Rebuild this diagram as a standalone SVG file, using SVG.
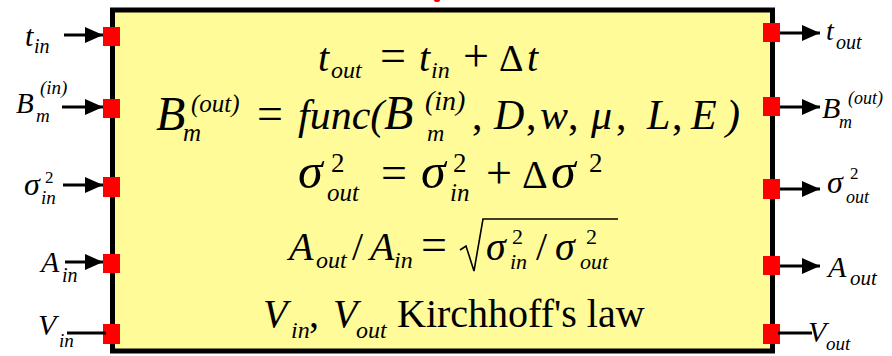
<svg xmlns="http://www.w3.org/2000/svg" width="892" height="356" viewBox="0 0 892 356">
<style>
text{font-family:"Liberation Serif","Times New Roman",serif;fill:#000}
.i{font-style:italic}
.u{font-style:normal}
.port{fill:#FF0000}
.wire{stroke:#000;stroke-width:3;fill:none}
</style>
<defs>
<marker id="ah" markerUnits="userSpaceOnUse" markerWidth="18" markerHeight="16" refX="18" refY="8" orient="auto">
<path d="M0,0 L18,8 L0,16 Z" fill="#000"/>
</marker>
</defs>
<rect x="0" y="0" width="892" height="356" fill="#FFFFFF"/>
<ellipse cx="437" cy="0" rx="3" ry="2" fill="#FF0000"/>

<g id="block">
<rect x="112.5" y="10" width="660" height="341" fill="#FFFB99" stroke="#000" stroke-width="5"/>
<text class="i" x="318" y="71" font-size="40">t</text>
<text class="i" x="331" y="78" font-size="24">out</text>
<text class="u" x="380" y="71" font-size="46">=</text>
<text class="i" x="419" y="71" font-size="40">t</text>
<text class="i" x="431" y="78" font-size="24">in</text>
<text class="u" x="463" y="71" font-size="46">+</text>
<text class="u" x="499" y="71" font-size="38">Δ</text>
<text class="i" x="527" y="71" font-size="40">t</text>

<text class="i" x="156" y="130" font-size="48">B</text>
<text class="i" x="191" y="112" font-size="25">(out)</text>
<text class="i" x="183" y="141" font-size="25">m</text>
<text class="u" x="257" y="129" font-size="46">=</text>
<text class="i" x="298" y="129" font-size="42">func(</text>
<text class="i" x="384" y="129" font-size="48">B</text>
<text class="i" x="425" y="110" font-size="28">(in)</text>
<text class="i" x="427" y="141" font-size="24">m</text>
<text class="u" x="472" y="129" font-size="42">,</text>
<text class="i" x="494" y="129" font-size="42">D</text>
<text class="u" x="526" y="129" font-size="42">,</text>
<text class="i" x="540" y="129" font-size="42">w</text>
<text class="u" x="568" y="129" font-size="42">,</text>
<text class="i" x="591" y="129" font-size="42">μ</text>
<text class="u" x="616" y="129" font-size="42">,</text>
<text class="i" x="647" y="129" font-size="42">L</text>
<text class="u" x="672" y="129" font-size="42">,</text>
<text class="i" x="691" y="129" font-size="42">E</text>
<text class="i" x="726" y="129" font-size="42">)</text>

<text class="i" x="298" y="188" font-size="50">σ</text>
<text class="u" x="331" y="172" font-size="27">2</text>
<text class="i" x="327" y="201" font-size="25">out</text>
<text class="u" x="381" y="188" font-size="46">=</text>
<text class="i" x="421" y="188" font-size="50">σ</text>
<text class="u" x="453" y="172" font-size="27">2</text>
<text class="i" x="450" y="201" font-size="25">in</text>
<text class="u" x="486" y="188" font-size="46">+</text>
<text class="u" x="522" y="188" font-size="40">Δ</text>
<text class="i" x="551" y="188" font-size="50">σ</text>
<text class="u" x="589" y="172" font-size="27">2</text>

<text class="i" x="289" y="260" font-size="40">A</text>
<text class="i" x="316" y="268" font-size="24">out</text>
<text class="u" x="352" y="260" font-size="40">/</text>
<text class="i" x="370" y="260" font-size="40">A</text>
<text class="i" x="394" y="268" font-size="24">in</text>
<text class="u" x="421" y="260" font-size="46">=</text>
<path d="M460,250 L466,246 L474,271 L483,219 L618,219" fill="none" stroke="#000" stroke-width="1.6"/>
<text class="i" x="486" y="260" font-size="40">σ</text>
<text class="u" x="512" y="244" font-size="22">2</text>
<text class="i" x="510" y="269" font-size="22">in</text>
<text class="u" x="536" y="260" font-size="40">/</text>
<text class="i" x="555" y="260" font-size="40">σ</text>
<text class="u" x="586" y="244" font-size="22">2</text>
<text class="i" x="580" y="269" font-size="22">out</text>

<text class="i" x="263" y="327" font-size="40">V</text>
<text class="i" x="291" y="338" font-size="24">in</text>
<text class="u" x="309" y="327" font-size="40">,</text>
<text class="i" x="333" y="327" font-size="40">V</text>
<text class="i" x="356" y="338" font-size="24">out</text>
<text class="u" x="397" y="327" font-size="40">Kirchhoff's law</text>
</g>

<g id="port-t-in">
<rect class="port" x="103" y="27" width="17" height="19"/>
<text class="i" x="25" y="46" font-size="30">t</text>
<text class="i" x="34" y="53" font-size="20">in</text>
</g>
<g id="port-b-in">
<rect class="port" x="103" y="99" width="17" height="19"/>
<text class="i" x="16" y="113" font-size="29">B</text>
<text class="i" x="40" y="94" font-size="19">(in)</text>
<text class="i" x="36" y="122" font-size="19">m</text>
</g>
<g id="port-sigma-in">
<rect class="port" x="103" y="177" width="17" height="20"/>
<text class="i" x="24" y="195" font-size="32">σ</text>
<text class="u" x="45" y="183" font-size="17">2</text>
<text class="i" x="41" y="204" font-size="19">in</text>
</g>
<g id="port-a-in">
<rect class="port" x="103" y="254" width="17" height="19"/>
<text class="i" x="41" y="272" font-size="30">A</text>
<text class="i" x="62" y="282" font-size="20">in</text>
</g>
<g id="port-v-in">
<rect class="port" x="103" y="324" width="17" height="20"/>
<text class="i" x="38" y="335" font-size="30">V</text>
<text class="i" x="59" y="347" font-size="19">in</text>
</g>

<g id="port-t-out">
<rect class="port" x="763" y="23" width="17" height="19"/>
<text class="i" x="826" y="40" font-size="28">t</text>
<text class="i" x="836" y="49" font-size="20">out</text>
</g>
<g id="port-b-out">
<rect class="port" x="763" y="97" width="17" height="19"/>
<text class="i" x="822" y="118" font-size="30">B</text>
<text class="i" x="848" y="104" font-size="18">(out)</text>
<text class="i" x="839" y="128" font-size="18">m</text>
</g>
<g id="port-sigma-out">
<rect class="port" x="763" y="179" width="17" height="20"/>
<text class="i" x="827" y="193" font-size="32">σ</text>
<text class="u" x="850" y="179" font-size="17">2</text>
<text class="i" x="846" y="203" font-size="18">out</text>
</g>
<g id="port-a-out">
<rect class="port" x="763" y="256" width="17" height="19"/>
<text class="i" x="828" y="277" font-size="30">A</text>
<text class="i" x="850" y="285" font-size="21">out</text>
</g>
<g id="port-v-out">
<rect class="port" x="763" y="324" width="17" height="20"/>
<text class="i" x="808" y="342" font-size="30">V</text>
<text class="i" x="826" y="350" font-size="19">out</text>
</g>

<g id="connectors">
<line class="wire" x1="64" y1="35" x2="103" y2="35" marker-end="url(#ah)"/>
<line class="wire" x1="62" y1="107" x2="103" y2="107" marker-end="url(#ah)"/>
<line class="wire" x1="63" y1="185" x2="103" y2="185" marker-end="url(#ah)"/>
<line class="wire" x1="65" y1="262" x2="103" y2="262" marker-end="url(#ah)"/>
<line class="wire" x1="67" y1="333" x2="106" y2="333"/>
<line class="wire" x1="780" y1="33" x2="820" y2="33" marker-end="url(#ah)"/>
<line class="wire" x1="780" y1="107" x2="820" y2="107" marker-end="url(#ah)"/>
<line class="wire" x1="780" y1="189" x2="820" y2="189" marker-end="url(#ah)"/>
<line class="wire" x1="780" y1="266" x2="820" y2="266" marker-end="url(#ah)"/>
<line class="wire" x1="778" y1="333" x2="812" y2="333"/>
</g>
</svg>
